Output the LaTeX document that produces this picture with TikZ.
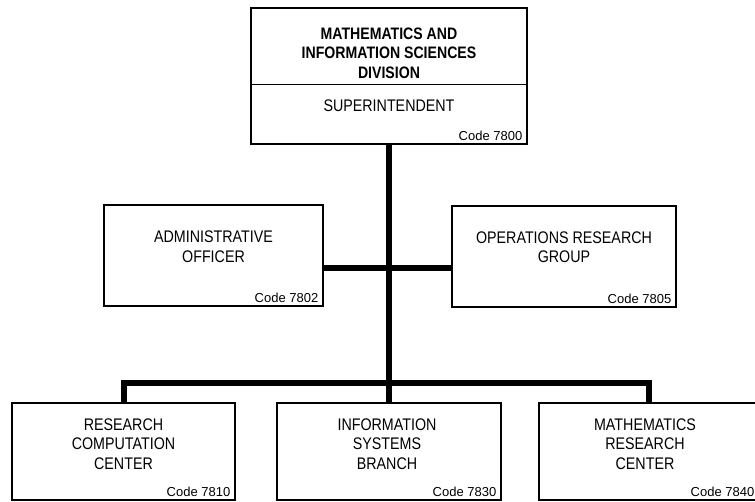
\documentclass[tikz,border=0pt]{standalone}
\usepackage{fontspec}
\setmainfont{Liberation Sans}
\newfontfamily\orgfont[FakeStretch=0.85]{Liberation Sans}
\usetikzlibrary{calc}
\tikzset{
  unit/.style={draw, line width=1.1pt, inner sep=0pt},
  unitname/.style={align=center, inner sep=0pt, font=\orgfont\fontsize{16.8}{19.5}\selectfont},
  code/.style={anchor=south east, inner xsep=5pt, inner ysep=4pt, font=\fontsize{13}{15}\selectfont},
  link/.style={line width=6pt, line join=miter}
}
\begin{document}
\begin{tikzpicture}[x=1pt, y=-1pt]
  \useasboundingbox (0,0) rectangle (755,502);
  % division office
  \node[unit, minimum width=276pt, minimum height=136pt] (div) at (389,76) {};
  \node[unitname, font=\orgfont\bfseries\fontsize{16.6}{19.5}\selectfont] (div-name) at (389,53) {MATHEMATICS AND\\INFORMATION SCIENCES\\DIVISION};
  \draw[line width=1.1pt] ([yshift=-77pt]div.north west) -- ([yshift=-77pt]div.north east);
  \node[unitname] (div-head) at (389,106) {SUPERINTENDENT};
  \node[code] (div-code) at (div.south east) {Code 7800};
  % staff
  \node[unit, minimum width=219pt, minimum height=101pt] (adm) at (213.5,255.5) {};
  \node[unitname] (adm-name) at (213.5,246.5) {ADMINISTRATIVE\\OFFICER};
  \node[code] (adm-code) at (adm.south east) {Code 7802};
  \node[unit, minimum width=224pt, minimum height=101pt] (ops) at (564,256.5) {};
  \node[unitname] (ops-name) at (564,247) {OPERATIONS RESEARCH\\GROUP};
  \node[code] (ops-code) at (ops.south east) {Code 7805};
  % line units
  \node[unit, minimum width=223pt, minimum height=97pt] (rcc) at (123.5,451.5) {};
  \node[unitname] (rcc-name) at (123.5,444) {RESEARCH\\COMPUTATION\\CENTER};
  \node[code] (rcc-code) at (rcc.south east) {Code 7810};
  \node[unit, minimum width=224pt, minimum height=97pt] (isb) at (389,451.5) {};
  \node[unitname] (isb-name) at (387,444) {INFORMATION\\SYSTEMS\\BRANCH};
  \node[code] (isb-code) at (isb.south east) {Code 7830};
  \node[unit, minimum width=220pt, minimum height=97pt] (mrc) at (649,451.5) {};
  \node[unitname] (mrc-name) at (645,444) {MATHEMATICS\\RESEARCH\\CENTER};
  \node[code] (mrc-code) at (mrc.south east) {Code 7840};
  % connectors
  \coordinate (mid) at (389,268);
  \coordinate (bus) at (389,383);
  \draw[link] (div.south) -- (bus);
  \draw[link] (adm.east |- mid) -- (ops.west |- mid);
  \draw[link] (rcc.north) -- (rcc.north |- bus) -- (mrc.north |- bus) -- (mrc.north);
  \draw[link] (isb.north) -- (isb.north |- bus);
\end{tikzpicture}
\end{document}
